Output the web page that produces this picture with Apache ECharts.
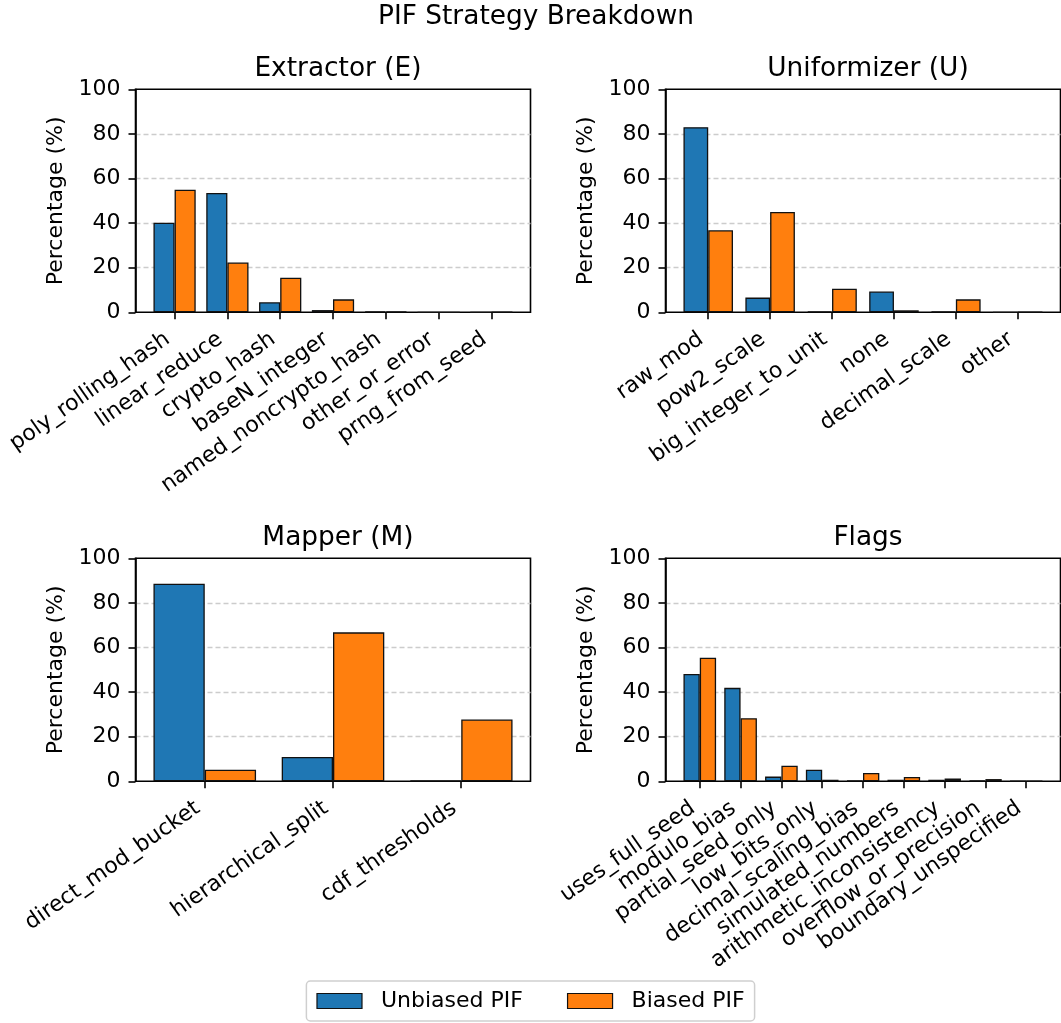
<!DOCTYPE html>
<html>
<head>
<meta charset="utf-8">
<script src="https://cdn.jsdelivr.net/npm/echarts@6/dist/echarts.min.js"></script>
<style>html,body{margin:0;padding:0;background:#fff}#c{width:1061px;height:1023px}</style>
</head>
<body>
<div id="c"></div>
<script>
// ---- data ----
const extractorCats = ['poly_rolling_hash','linear_reduce','crypto_hash','baseN_integer','named_noncrypto_hash','other_or_error','prng_from_seed'];
const extractorUnbiased = [40.2, 53.5, 4.5, 1.0, 0.4, 0.0, 0.0];
const extractorBiased   = [55.0, 22.3, 15.5, 5.8, 0.4, 0.0, 0.1];

const uniformizerCats = ['raw_mod','pow2_scale','big_integer_to_unit','none','decimal_scale','other'];
const uniformizerUnbiased = [83.0, 6.6, 0.4, 9.3, 0.3, 0.0];
const uniformizerBiased   = [36.8, 45.0, 10.6, 0.9, 5.8, 0.1];

const mapperCats = ['direct_mod_bucket','hierarchical_split','cdf_thresholds'];
const mapperUnbiased = [88.6, 10.9, 0.3];
const mapperBiased   = [5.2, 66.8, 27.7];

const flagsCats = ['uses_full_seed','modulo_bias','partial_seed_only','low_bits_only','decimal_scaling_bias','simulated_numbers','arithmetic_inconsistency','overflow_or_precision','boundary_unspecified'];
const flagsUnbiased = [48.1, 41.9, 2.1, 5.2, 0.3, 0.7, 0.7, 0.4, 0.1];
const flagsBiased   = [55.4, 28.3, 7.0, 0.7, 3.7, 1.9, 1.2, 1.0, 0.1];

const yTicks = {min: 0, max: 100, interval: 20};
const seriesNames = ['Unbiased PIF', 'Biased PIF'];
const titles = ['Extractor (E)', 'Uniformizer (U)', 'Mapper (M)', 'Flags'];
const suptitle = 'PIF Strategy Breakdown';

// ---- layout ----
const FONT = 'DejaVu Sans';
const colors = ['#1f77b4', '#ff7f0e'];
const panels = [
  {cats: extractorCats, a: extractorUnbiased, b: extractorBiased, L: 135.5, T: 89.3},
  {cats: uniformizerCats, a: uniformizerUnbiased, b: uniformizerBiased, L: 665.5, T: 89.3},
  {cats: mapperCats, a: mapperUnbiased, b: mapperBiased, L: 135.5, T: 558.3},
  {cats: flagsCats, a: flagsUnbiased, b: flagsBiased, L: 665.5, T: 558.3}
];
const W = 395, H = 223;

const grid = [], xAxis = [], yAxis = [], series = [], title = [];
title.push({text: suptitle, left: 531, top: -1, textAlign: 'center',
  textStyle: {fontFamily: FONT, fontSize: 26.4, fontWeight: 'normal', color: '#000'}});

panels.forEach((p, i) => {
  const n = p.cats.length;
  const span = (n - 0.2) * 1.1;
  const u = W / span;
  const off = (0.05 * (n - 0.2) - 0.1) * u;
  const fi = 2 * i, bi = 2 * i + 1;
  grid.push({left: p.L, top: p.T, width: W, height: H, show: true,
    borderColor: '#000', borderWidth: 1.6, backgroundColor: 'transparent', containLabel: false});
  grid.push({left: p.L + off, top: p.T, width: n * u, height: H, containLabel: false});
  xAxis.push({type: 'value', gridIndex: fi, min: 0, max: 1, show: false});
  xAxis.push({type: 'category', gridIndex: bi, data: p.cats,
    axisLine: {show: false},
    axisTick: {show: true, alignWithLabel: true, length: 7, lineStyle: {color: '#000', width: 1.6}},
    axisLabel: {interval: 0, rotate: 35, margin: 20, padding: [0, 8.5, 0, 0],
      fontFamily: FONT, fontSize: 22, color: '#000'},
    splitLine: {show: false}});
  yAxis.push({type: 'value', gridIndex: fi, min: yTicks.min, max: yTicks.max, interval: yTicks.interval,
    name: 'Percentage (%)', nameLocation: 'middle', nameGap: 68,
    nameTextStyle: {fontFamily: FONT, fontSize: 22, color: '#000'},
    axisLine: {show: true, lineStyle: {color: '#000', width: 1.6}},
    axisTick: {show: true, length: 7, lineStyle: {color: '#000', width: 1.6}},
    axisLabel: {margin: 15, fontFamily: FONT, fontSize: 22, color: '#000'},
    splitLine: {show: true, showMinLine: false, showMaxLine: false,
      lineStyle: {color: '#cccccc', width: 1.3, type: [5, 3]}}});
  yAxis.push({type: 'value', gridIndex: bi, min: yTicks.min, max: yTicks.max, interval: yTicks.interval, show: false,
    splitLine: {show: false}});
  [p.a, p.b].forEach((vals, k) => {
    series.push({type: 'bar', name: seriesNames[k], xAxisIndex: bi, yAxisIndex: bi, data: vals,
      barGap: '0%', barCategoryGap: '20%',
      itemStyle: {color: colors[k], borderColor: '#111', borderWidth: 1.3},
      emphasis: {disabled: true}, animation: false});
  });
  title.push({text: titles[i], left: p.L + W / 2, top: p.T - 38, textAlign: 'center',
    textStyle: {fontFamily: FONT, fontSize: 26.4, fontWeight: 'normal', color: '#000'}});
});

const chart = echarts.init(document.getElementById('c'), null, {renderer: 'canvas'});
chart.setOption({
  animation: false,
  backgroundColor: '#fff',
  title: title,
  legend: {data: seriesNames, left: 'center', top: 981, orient: 'horizontal',
    itemWidth: 45, itemHeight: 15, itemGap: 44, icon: 'rect',
    itemStyle: {borderColor: '#111', borderWidth: 1.2},
    padding: [9, 10, 9, 10], borderColor: '#cfcfcf', borderWidth: 1.5, borderRadius: 4,
    textStyle: {fontFamily: FONT, fontSize: 22, color: '#000', padding: [0, 0, 0, 14]}},
  grid: grid, xAxis: xAxis, yAxis: yAxis, series: series
});
</script>
</body>
</html>
